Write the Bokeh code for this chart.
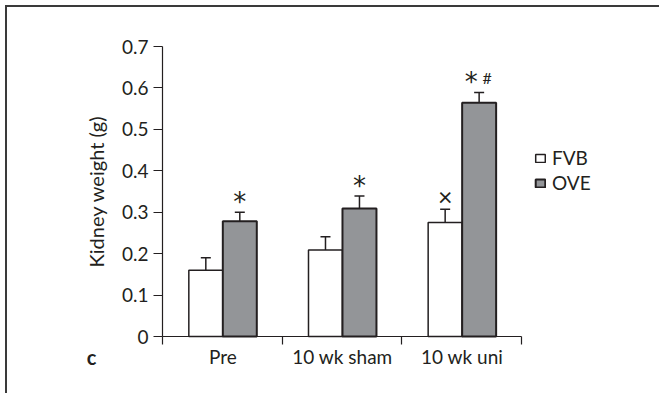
from bokeh.plotting import figure
from bokeh.models import (ColumnDataSource, Range1d, FixedTicker, Whisker, TeeHead,
                          Legend, LegendItem, Label, LinearAxis)
from bokeh.core.properties import value
from bokeh.embed import file_html
from bokeh.resources import INLINE

# Kidney weight (g), mean and upper error limit
groups = ["Pre", "10 wk sham", "10 wk uni"]
fvb = [0.16, 0.209, 0.275]
fvb_err = [0.19, 0.241, 0.307]
ove = [0.278, 0.309, 0.564]
ove_err = [0.30, 0.339, 0.589]
fvb_marks = ["", "", "×"]
ove_marks = ["*", "*", "*"]
ove_extra = ["", "", "#"]
y_ticks = [0, 0.1, 0.2, 0.3, 0.4, 0.5, 0.6, 0.7]
y_tick_labels = ["0", "0.1", "0.2", "0.3", "0.4", "0.5", "0.6", "0.7"]

FONT = "Lato"
INK = "#231f20"
GREY = "#939598"
OFFSET = 0.142
BAR_W = 0.284

# page geometry (px): canvas sits 7px in from the page corner, behind a drawn border
PAD = 7
W, H = 661 - PAD, 395 - PAD
AX_L, AX_R, AX_T, AX_B = 162 - PAD, 521 - PAD, 46 - PAD, 336 - PAD
YMAX = 0.7
NCAT = len(groups)
sx = (AX_R - AX_L) / NCAT          # px per category
sy = (AX_B - AX_T) / YMAX          # px per gram
x_range = Range1d(-AX_L / sx, (W - AX_L) / sx)
y_range = Range1d(-(H - AX_B) / sy, AX_B / sy)

centers = [i + 0.504 for i in range(NCAT)]
src_fvb = ColumnDataSource(dict(x=[c - OFFSET for c in centers], top=fvb, upper=fvb_err,
                                mark=fvb_marks))
src_ove = ColumnDataSource(dict(x=[c + OFFSET for c in centers], top=ove, upper=ove_err,
                                mark=ove_marks, extra=ove_extra,
                                # nudge the asterisk left when a second symbol follows it
                                dx=[-8 if e else 0 for e in ove_extra]))

p = figure(width=W, height=H, output_backend="svg", toolbar_location=None,
           x_range=x_range, y_range=y_range, x_axis_location=None, y_axis_location=None,
           min_border=0)
p.styles = {"margin-left": "5px", "margin-top": "5px",
            "border-top": "2px solid #3a3a3a", "border-left": "2px solid #3a3a3a"}
p.outline_line_color = None
p.xgrid.visible = False
p.ygrid.visible = False

r_fvb = p.vbar(x="x", top="top", bottom=0, width=BAR_W, source=src_fvb,
               fill_color="white", line_color=INK, line_width=1.5)
r_ove = p.vbar(x="x", top="top", bottom=0, width=BAR_W, source=src_ove,
               fill_color=GREY, line_color=INK, line_width=2)

for src in (src_fvb, src_ove):
    p.add_layout(Whisker(source=src, base="x", lower="top", upper="upper",
                         line_color=INK, line_width=1.5,
                         upper_head=TeeHead(size=10, line_color=INK, line_width=1.5),
                         lower_head=None))

# significance marks above the error bars
p.text(x="x", y="upper", text="mark", source=src_fvb, text_align="center",
       text_baseline="alphabetic", y_offset=-13, text_font=value(FONT),
       text_font_size="25px", text_color=INK)
p.text(x="x", y="upper", text="mark", source=src_ove, text_align="center",
       text_baseline="alphabetic", y_offset=-10, x_offset="dx",
       text_font=value("DejaVu Sans"), text_font_size="26px", text_color=INK)
p.text(x="x", y="upper", text="extra", source=src_ove, text_align="center",
       text_baseline="alphabetic", y_offset=-15, x_offset=8,
       text_font=value(FONT), text_font_size="16px", text_color=INK)

# axes pinned to the data origin
yax = LinearAxis(fixed_location=0, bounds=(0, YMAX))
yax.ticker = FixedTicker(ticks=y_ticks, minor_ticks=[])
yax.major_label_overrides = {t: s for t, s in zip(y_ticks, y_tick_labels)}
yax.axis_label = "Kidney weight (g)"
yax.major_tick_out = 9
yax.major_tick_in = 0
yax.minor_tick_out = 0
yax.major_label_standoff = 5
yax.axis_label_standoff = 11

xax = LinearAxis(fixed_location=0, bounds=(0, NCAT))
xax.ticker = FixedTicker(ticks=centers, minor_ticks=list(range(NCAT + 1)))
xax.major_label_overrides = {c: g for c, g in zip(centers, groups)}
xax.major_tick_out = 0
xax.major_tick_in = 0
xax.minor_tick_out = 8
xax.minor_tick_in = 0
xax.major_label_standoff = 0

for ax in (xax, yax):
    ax.axis_line_color = INK
    ax.axis_line_width = 1.2
    ax.major_tick_line_color = INK
    ax.major_tick_line_width = 1.2
    ax.minor_tick_line_color = INK
    ax.minor_tick_line_width = 1.2
    ax.major_label_text_font = FONT
    ax.major_label_text_font_size = "19px"
    ax.major_label_text_color = INK
    ax.axis_label_text_font = FONT
    ax.axis_label_text_font_size = "20px"
    ax.axis_label_text_font_style = "normal"
    ax.axis_label_text_color = INK
p.add_layout(yax, "left")
p.add_layout(xax, "below")

legend = Legend(items=[LegendItem(label="FVB", renderers=[r_fvb]),
                       LegendItem(label="OVE", renderers=[r_ove])],
                location=(534 - PAD, 395 - 194), padding=0, margin=0, spacing=2,
                glyph_width=12, glyph_height=10, label_standoff=6,
                label_text_font=FONT, label_text_font_size="19px", label_text_color=INK,
                border_line_alpha=0, background_fill_alpha=0)
p.add_layout(legend, "center")

# panel letter
p.add_layout(Label(x=(91 - 162) / sx, y=(336 - 356) / sy, text="c", text_font=FONT,
                   text_font_size="20px", text_font_style="bold", text_color=INK,
                   text_align="center", text_baseline="middle"))

open("out.html", "w").write(file_html(p, INLINE))
